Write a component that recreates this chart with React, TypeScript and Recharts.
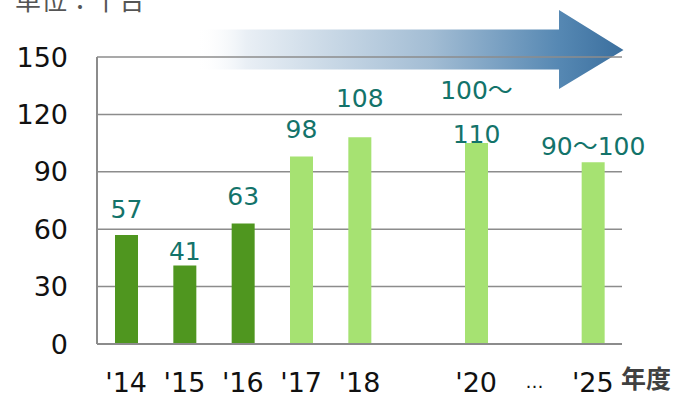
import { Bar, BarChart, CartesianGrid, Cell, LabelList, XAxis, YAxis } from 'recharts';

// fiscal years on the x axis ('' = skipped year, '…' = gap before 2025)
const years = ["'14", "'15", "'16", "'17", "'18", '', "'20", '…', "'25"];
// units (thousand), ranges drawn at their midpoint
const units: (number | null)[] = [57, 41, 63, 98, 108, null, 105, null, 95];
const valueLabels = ['57', '41', '63', '98', '108', '', '100～\n110', '', '90～100'];
const isForecast = [false, false, false, true, true, false, true, false, true];
const yTicks = [0, 30, 60, 90, 120, 150];

// label distance above each bar top (px)
const labelGaps = [17, 6, 18, 18, 30, 0, 7, 0, 6];

const data = years.map((year, i) => ({
  year,
  units: units[i],
  label: valueLabels[i],
}));

const W = 675;
const H = 396;
const FONT = '"DejaVu Sans", "Noto Sans CJK JP", sans-serif';
const GRID = '#8c8c8c';
const DARK_GREEN = '#4f961f';
const LIGHT_GREEN = '#a6e272';
const LABEL_TEAL = '#13736a';

const YearTick = (props: any) => {
  const { x, y, payload } = props;
  const dots = payload.value === '…';
  return (
    <text
      x={x}
      y={y}
      dy="0.71em"
      textAnchor="middle"
      fontFamily={FONT}
      fontSize={dots ? 18 : 27}
      fill="#111"
      transform={dots ? 'translate(0, 2)' : undefined}
    >
      {payload.value}
    </text>
  );
};

const ValueLabel = (props: any) => {
  const { x, y, width, value, index } = props;
  if (!value) return null;
  const lines = String(value).split('\n');
  const gap = labelGaps[index] ?? 10;
  const baseY = Number(y) - gap;
  const cx = Number(x) + Number(width) / 2;
  return (
    <text textAnchor="middle" fontFamily={FONT} fontSize={25} fill={LABEL_TEAL}>
      {lines.map((line, i) => (
        <tspan key={i} x={cx} y={baseY - (lines.length - 1 - i) * 44}>
          {line}
        </tspan>
      ))}
    </text>
  );
};

export default function App() {
  return (
    <div style={{ position: 'absolute', left: 0, top: 0, width: W, height: H, background: '#fff', overflow: 'hidden' }}>
      {/* growth arrow and captions, behind the plot */}
      <svg width={W} height={H} style={{ position: 'absolute', left: 0, top: 0 }}>
        <defs>
          <linearGradient id="growth" x1="195" y1="0" x2="623" y2="0" gradientUnits="userSpaceOnUse">
            <stop offset="0" stopColor="#ffffff" stopOpacity={0} />
            <stop offset="0.12" stopColor="#e9eff5" />
            <stop offset="0.55" stopColor="#a3bdd4" />
            <stop offset="0.85" stopColor="#5688b3" />
            <stop offset="1" stopColor="#3b6f9e" />
          </linearGradient>
        </defs>
        <polygon
          points="195,29.5 559,29.5 559,10 623.5,50 559,89 559,69.5 195,69.5"
          fill="url(#growth)"
        />
        <text x={15} y={10} fontFamily={FONT} fontSize={26} fill="#555">
          単位：千台
        </text>
        <text x={621} y={388} fontFamily={FONT} fontSize={25} fontWeight="bold" fill="#404040">
          年度
        </text>
      </svg>
      <div style={{ position: 'absolute', left: 0, top: 0 }}>
        <BarChart width={W} height={H} data={data} margin={{ top: 57, right: 53, bottom: 0, left: 0 }}>
          <CartesianGrid vertical={false} stroke={GRID} strokeWidth={1.5} />
          <XAxis
            dataKey="year"
            height={52}
            interval={0}
            tickLine={false}
            tickSize={0}
            tickMargin={29}
            axisLine={{ stroke: GRID, strokeWidth: 2 }}
            tick={<YearTick />}
          />
          <YAxis
            width={97}
            domain={[0, 150]}
            ticks={yTicks}
            tickLine={false}
            tickSize={0}
            tickMargin={29}
            axisLine={{ stroke: GRID, strokeWidth: 2 }}
            tick={{ fontFamily: FONT, fontSize: 27, fill: '#111' }}
          />
          <Bar dataKey="units" barSize={23} isAnimationActive={false}>
            {data.map((d, i) => (
              <Cell key={d.year + i} fill={isForecast[i] ? LIGHT_GREEN : DARK_GREEN} />
            ))}
            <LabelList dataKey="label" content={<ValueLabel />} />
          </Bar>
        </BarChart>
      </div>
    </div>
  );
}
